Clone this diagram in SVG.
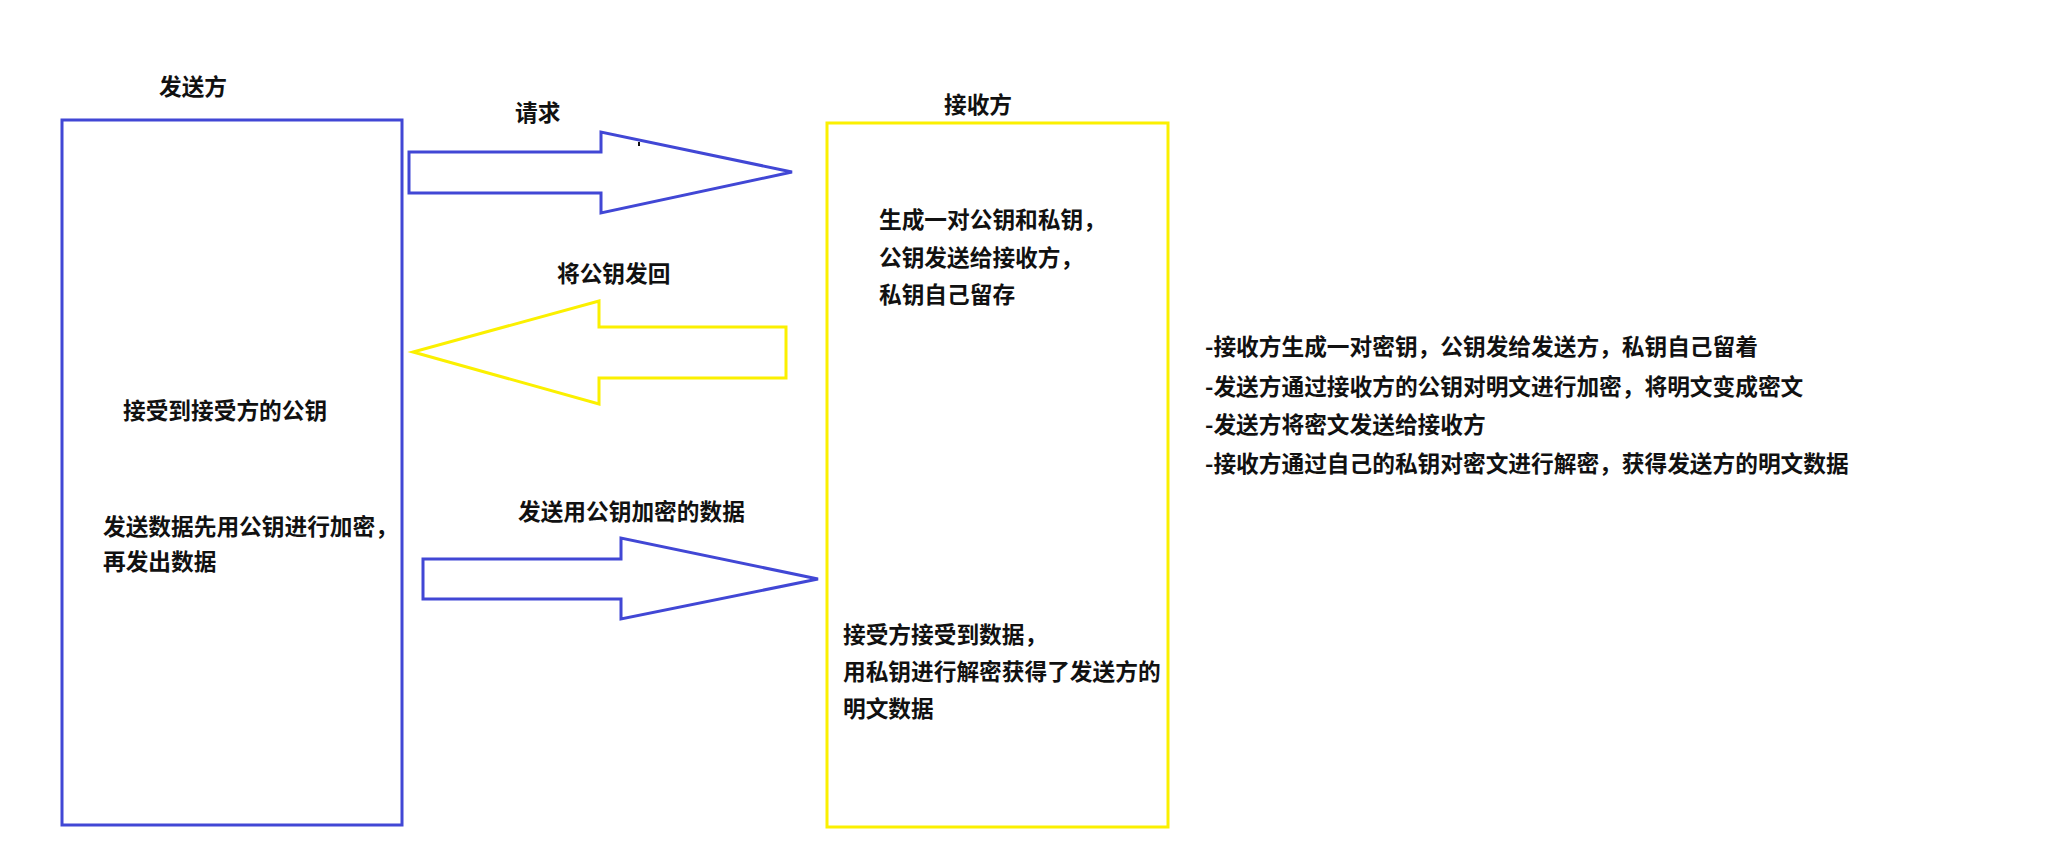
<svg xmlns="http://www.w3.org/2000/svg" width="2069" height="854" viewBox="0 0 2069 854">
<style>
  text { font-family: "Noto Sans CJK SC", "Noto Sans", sans-serif; font-weight: bold; font-size: 22.7px; fill: #111; }
  .blue { fill: none; stroke: #4147d5; stroke-width: 3; }
  .yellow { fill: none; stroke: #fbf000; stroke-width: 3; }
</style>
<rect width="2069" height="854" fill="#fff"/>
<g id="sender">
  <rect class="blue" x="62" y="120" width="340" height="705"/>
  <text x="159" y="95">发送方</text>
  <text x="123" y="419">接受到接受方的公钥</text>
  <text x="103" y="535">发送数据先用公钥进行加密，</text>
  <text x="103" y="570">再发出数据</text>
</g>
<g id="receiver">
  <rect class="yellow" x="827" y="123" width="341" height="704"/>
  <text x="944" y="113">接收方</text>
  <text x="879" y="228">生成一对公钥和私钥，</text>
  <text x="879" y="266">公钥发送给接收方，</text>
  <text x="879" y="303">私钥自己留存</text>
  <text x="843" y="643">接受方接受到数据，</text>
  <text x="843" y="680">用私钥进行解密获得了发送方的</text>
  <text x="843" y="717">明文数据</text>
</g>
<g id="connectors">
  <g id="arrow-request">
    <polygon class="blue" points="409,152 601,152 601,132 792,172 601,213 601,193 409,193"/>
    <rect x="638" y="142" width="2" height="4" fill="#111"/>
    <text x="515" y="121">请求</text>
  </g>
  <g id="arrow-return-key">
    <polygon class="yellow" points="786,327 599,327 599,301 413,352 599,404 599,378 786,378"/>
    <text x="557" y="282">将公钥发回</text>
  </g>
  <g id="arrow-send-data">
    <polygon class="blue" points="423,559 621,559 621,538 818,579 621,619 621,599 423,599"/>
    <text x="518" y="520">发送用公钥加密的数据</text>
  </g>
</g>
<g id="notes">
  <text x="1205" y="355">-接收方生成一对密钥，公钥发给发送方，私钥自己留着</text>
  <text x="1205" y="395">-发送方通过接收方的公钥对明文进行加密，将明文变成密文</text>
  <text x="1205" y="433">-发送方将密文发送给接收方</text>
  <text x="1205" y="472">-接收方通过自己的私钥对密文进行解密，获得发送方的明文数据</text>
</g>
</svg>
